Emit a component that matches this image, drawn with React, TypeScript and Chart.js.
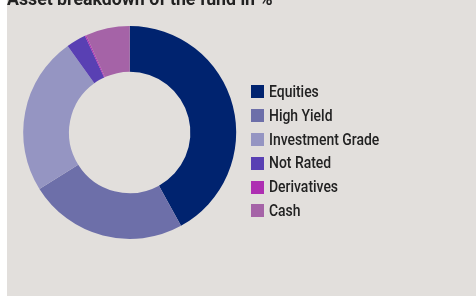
import React, { useEffect, useRef } from "react";
import { Chart, registerables } from "chart.js";

Chart.register(...registerables);

const title = "Asset breakdown of the fund in %";
const categories = ["Equities", "High Yield", "Investment Grade", "Not Rated", "Derivatives", "Cash"];
const values = [42.0, 24.1, 24.0, 3.0, 0.2, 6.7];
const colors = ["#00236f", "#6d6fa9", "#9595c2", "#5940b3", "#ae2fb2", "#a563a7"];

const FONT = "Roboto, 'Liberation Sans', sans-serif";

export default function App() {
  const ref = useRef<HTMLCanvasElement | null>(null);

  useEffect(() => {
    if (!ref.current) return;
    const chart = new Chart(ref.current, {
      type: "doughnut",
      data: {
        labels: categories,
        datasets: [
          {
            data: values,
            backgroundColor: colors,
            borderColor: colors,
            borderWidth: 0,
            hoverOffset: 0,
          },
        ],
      },
      options: {
        responsive: false,
        animation: false,
        cutout: "57%",
        layout: { padding: { left: 16.2, right: 239.8, top: 26, bottom: 57 } },
        plugins: {
          tooltip: { enabled: false },
          legend: { display: false },
        },
      },
    });
    return () => chart.destroy();
  }, []);

  return (
    <div
      style={{
        position: "absolute",
        left: 7,
        top: 0,
        width: 469,
        height: 296,
        background: "#e2dfdc",
        overflow: "hidden",
      }}
    >
      <canvas ref={ref} width={469} height={296} style={{ position: "absolute", left: 0, top: 0 }} />
      <div
        style={{
          position: "absolute",
          left: 0,
          top: -11.2,
          whiteSpace: "nowrap",
          fontFamily: FONT,
          fontWeight: "bold",
          fontSize: 18,
          lineHeight: "20px",
          color: "#222222",
          transform: "scaleX(0.985)",
          transformOrigin: "0 0",
        }}
      >
        {title}
      </div>
      {categories.map((c, i) => (
        <div key={c} style={{ position: "absolute", left: 244, top: 82.8 + i * 23.86, height: 17 }}>
          <div
            style={{
              position: "absolute",
              left: 0,
              top: 2.3,
              width: 13,
              height: 13,
              background: colors[i],
            }}
          />
          <div
            style={{
              position: "absolute",
              left: 18,
              top: 0,
              whiteSpace: "nowrap",
              fontFamily: FONT,
              fontWeight: 500,
              fontSize: 17,
              lineHeight: "17px",
              color: "#222222",
              transform: "scaleX(0.82)",
              transformOrigin: "0 0",
            }}
          >
            {c}
          </div>
        </div>
      ))}
    </div>
  );
}
